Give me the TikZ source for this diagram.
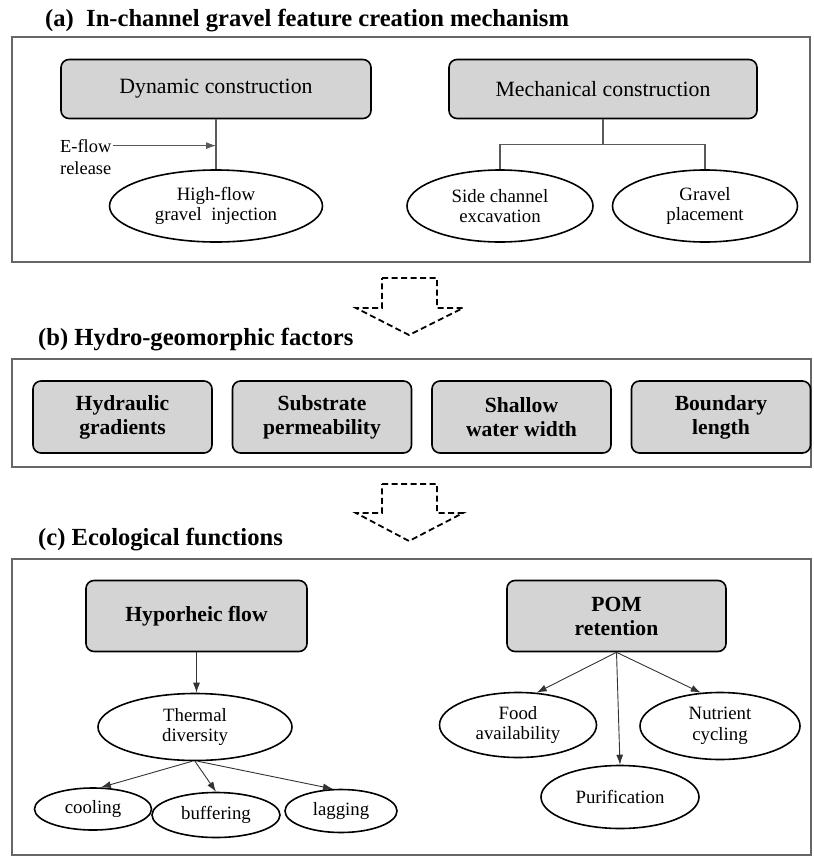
\documentclass[tikz,border=0pt]{standalone}
\usepackage{fontspec}
\setmainfont{Liberation Serif}
\usetikzlibrary{shapes.geometric, arrows.meta}

\begin{document}
\begin{tikzpicture}[
  x=1pt, y=-1pt,
  frame/.style={draw=black!60, line width=1.2pt},
  title/.style={anchor=base west, inner sep=0pt, font=\fontsize{24.6}{28}\selectfont\bfseries},
  gbox/.style={rectangle, rounded corners=8pt, draw, line width=1.6pt, fill=black!17,
    align=center, inner sep=2pt, font=\fontsize{21.8}{24}\selectfont},
  btext/.style={font=\fontsize{21.6}{24}\selectfont\bfseries},
  oval/.style={ellipse, draw, line width=1.6pt, fill=white, align=center, inner sep=0pt,
    font=\fontsize{18.8}{20.5}\selectfont},
  link/.style={draw=black!65, line width=1.1pt},
  flow/.style={draw=black!80, line width=0.9pt, -{Latex[length=10pt, width=7pt]}},
  bigarrow/.style={draw, line width=1.8pt, dash pattern=on 6pt off 3.5pt}
]
  \useasboundingbox (0,0) rectangle (814,857);

  % (a) creation mechanism
  \node[title] (ta) at (45,26) {(a)\ \ In-channel gravel feature creation mechanism};
  \draw[frame] (12,37) rectangle (810,262);

  \node[gbox, minimum width=310, minimum height=59] (dyn) at (216,89) {Dynamic construction};
  \node[oval, minimum width=213, minimum height=72] (hgi) at (216,206) {High-flow\\gravel\ \ injection};
  \node[anchor=base west, inner sep=0pt, font=\fontsize{18.4}{21}\selectfont] (ef) at (60,152) {E-flow};
  \node[anchor=base west, inner sep=0pt, font=\fontsize{18.4}{21}\selectfont] (rel) at (60,174) {release};
  \draw[link] (dyn.south) -- (hgi.north);
  \draw[flow, draw=black!65] (ef.east) ++(2,0) -- (ef.east -| dyn.south);

  \node[gbox, minimum width=308, minimum height=59] (mech) at (603,89) {Mechanical construction};
  \node[oval, minimum width=186, minimum height=72] (sce) at (500,206) {Side channel\\excavation};
  \node[oval, minimum width=185, minimum height=72] (gp) at (705,206) {Gravel\\placement};
  \draw[link] (mech.south) -- ++(0,25) coordinate (mj);
  \draw[link] (sce.north) |- (mj) -| (gp.north);

  \draw[bigarrow] (382,278) -- (437,278) -- (437,308) -- (463,308) -- (409,335)
    -- (356,308) -- (382,308) -- cycle;

  % (b) hydro-geomorphic factors
  \node[title] (tb) at (38,345) {(b) Hydro-geomorphic factors};
  \draw[frame] (12,359) rectangle (811,467);
  \foreach \t [count=\i] in {{Hydraulic\\gradients}, {Substrate\\permeability},
      {Shallow\\water width}, {Boundary\\length}} {
    \node[gbox, btext, minimum width=179, minimum height=72] (f\i) at ({122.5+(\i-1)*199.5},417) {\t};
  }

  \draw[bigarrow] (382,484) -- (437,484) -- (437,513) -- (463,513) -- (409,541)
    -- (356,513) -- (382,513) -- cycle;

  % (c) ecological functions
  \node[title] (tc) at (38,545) {(c) Ecological functions};
  \draw[frame] (12,559) rectangle (811,855);

  \node[gbox, btext, minimum width=221, minimum height=71] (hyp) at (196.5,616) {Hyporheic flow};
  \node[oval, minimum width=194, minimum height=67] (therm) at (195,727) {Thermal\\diversity};
  \node[oval, minimum width=117, minimum height=42] (cool) at (93,809) {cooling};
  \node[oval, minimum width=128, minimum height=45] (buff) at (216,815) {buffering};
  \node[oval, minimum width=112, minimum height=43] (lag) at (341,811) {lagging};
  \draw[flow] (hyp.south) -- (hyp.south |- therm.north);
  \draw[flow] (therm.265) -- (cool.70);
  \draw[flow] (therm.south) -- (buff.north);
  \draw[flow] (therm.275) -- (lag.110);

  \node[gbox, btext, minimum width=219, minimum height=71] (pom) at (616.5,616) {POM\\retention};
  \node[oval, minimum width=157, minimum height=65] (food) at (518,725) {Food\\availability};
  \node[oval, minimum width=160, minimum height=67] (nut) at (720,726) {Nutrient\\cycling};
  \node[oval, minimum width=158, minimum height=63] (pur) at (620,797) {Purification};
  \draw[flow] (pom.south) -- (food.60);
  \draw[flow] (pom.south) -- (pur.north);
  \draw[flow] (pom.south) -- (nut.120);
\end{tikzpicture}
\end{document}
